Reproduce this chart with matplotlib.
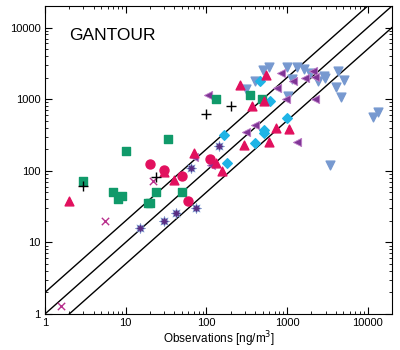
import matplotlib
matplotlib.use("Agg")
import matplotlib.pyplot as plt

plt.rcParams["font.family"] = ["Liberation Sans", "DejaVu Sans"]

# pink triangles
tri_x = [2, 30, 40, 70, 130, 155, 290, 370, 260, 550, 520, 600, 740, 1050]
tri_y = [38, 95, 75, 175, 130, 100, 230, 800, 1600, 2200, 950, 250, 390, 380]
# pink circles
circ_x = [20, 30, 50, 60, 110]
circ_y = [125, 103, 85, 38, 145]
# green squares
sq_x = [3, 7, 8, 9, 10, 19, 20, 24, 33, 50, 130, 350, 490]
sq_y = [72, 50, 40, 45, 190, 35, 36, 51, 275, 50, 1000, 1150, 1000]
# black plus
plus_x = [3, 24, 100, 200]
plus_y = [62, 83, 620, 810]
# magenta crosses
x_x = [1.6, 5.5, 22]
x_y = [1.3, 20, 73]
# dark purple stars
star_x = [15, 30, 42, 74, 65, 145]
star_y = [16, 20, 26, 30, 108, 222]
# purple left triangles
lt_x = [105, 70, 115, 310, 400, 980, 750, 850, 1200, 1650, 2100, 2250, 2250, 1320]
lt_y = [1130, 158, 120, 345, 440, 990, 1420, 2350, 1800, 1950, 2500, 2050, 1000, 250]
# cyan diamonds
dia_x = [165, 180, 400, 520, 520, 465, 620, 990]
dia_y = [315, 130, 247, 370, 335, 1800, 930, 540]
# light blue down triangles
dt_x = [310, 400, 500, 590, 1000, 1320, 1600, 1150, 1950, 2400, 2900, 2950,
        4250, 5100, 4000, 4700, 1020, 11700, 13500, 3400]
dt_y = [1380, 1800, 2550, 2800, 2850, 2850, 2600, 1900, 2350, 1780, 2130, 1950,
        2450, 1860, 1500, 1060, 1090, 560, 660, 120]

lims = [1, 20000]

fig = plt.figure(figsize=(4, 3.5), dpi=100)
ax = fig.add_axes([0.1125, 0.103, 0.8675, 0.88])

# 1:1, 2:1 and 1:2 lines
for f in [2, 1, 0.5]:
    ax.plot(lims, [lims[0] * f, lims[1] * f], color="black", lw=1)

ax.scatter(dt_x, dt_y, marker="v", s=40, color="#7799D0", zorder=3)
ax.scatter(lt_x, lt_y, marker="<", s=36, color="#7F3596", edgecolor="#C080C8", lw=0.6, zorder=3)
ax.scatter(dia_x, dia_y, marker="D", s=24, color="#1EB4E6", zorder=3)
ax.scatter(sq_x, sq_y, marker="s", s=30, color="#109A6A", zorder=3)
ax.scatter(circ_x, circ_y, marker="o", s=42, color="#E2105E", zorder=3)
ax.scatter(tri_x, tri_y, marker="^", s=40, color="#E2105E", zorder=3)
ax.scatter(star_x, star_y, marker=(8, 1, 0), s=55, color="#5A2C82", edgecolor="#7799D0", lw=0.4, zorder=4)
ax.scatter(x_x, x_y, marker="x", s=28, color="#B8308C", lw=1, zorder=4)
ax.scatter(plus_x, plus_y, marker="+", s=60, color="black", lw=1, zorder=4)

ax.set_xscale("log")
ax.set_yscale("log")
ax.set_xlim(lims)
ax.set_ylim(lims)
ticks = [1, 10, 100, 1000, 10000]
ax.set_xticks(ticks)
ax.set_xticklabels([str(t) for t in ticks])
ax.set_yticks(ticks)
ax.set_yticklabels([str(t) for t in ticks])
ax.tick_params(which="both", direction="in", top=True, right=True, labelsize=8, pad=3)
ax.tick_params(which="major", length=5)
ax.tick_params(which="minor", length=2.5)
ax.set_xlabel("Observations [ng/m$^3$]", fontsize=8.5, labelpad=1)

ax.text(0.07, 0.93, "GANTOUR", transform=ax.transAxes, fontsize=12.5, va="top")

fig.savefig("out.png", dpi=100)
